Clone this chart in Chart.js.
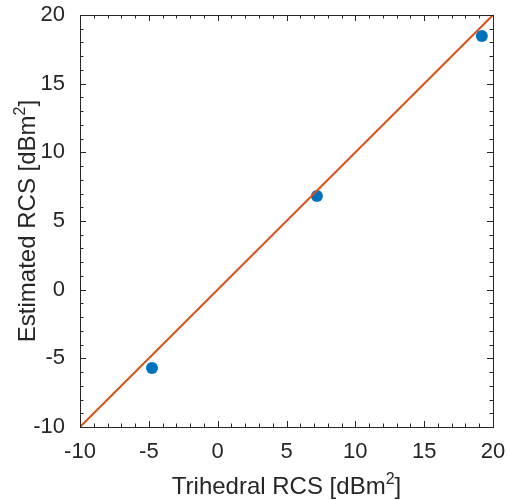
<!DOCTYPE html>
<html>
<head>
<meta charset="utf-8">
<script src="https://cdn.jsdelivr.net/npm/chart.js@4"></script>
<style>
  html, body { margin: 0; padding: 0; background: #fff; }
  #wrap { width: 507px; height: 500px; }
</style>
</head>
<body>
<div id="wrap"><canvas id="c" width="507" height="500"></canvas></div>
<script>
// ---- data ----
const trihedralRCS = [-4.77, 7.21, 19.19];
const estimatedRCS = [-5.71, 6.82, 18.47];
const refLineX = [-10, 20];
const refLineY = [-10, 20];
const axisMin = -10;
const axisMax = 20;
const majorStep = 5;
const minorStep = 1;
const xTitle = 'Trihedral RCS [dBm';
const yTitle = 'Estimated RCS [dBm';
const titleSup = '2';
const titleEnd = ']';

const FONT = '"Liberation Sans", Arial, Helvetica, sans-serif';
const INK = '#262626';

const pointsData = trihedralRCS.map((x, i) => ({ x: x, y: estimatedRCS[i] }));
const lineData = refLineX.map((x, i) => ({ x: x, y: refLineY[i] }));

const boxPlugin = {
  id: 'boxTicks',
  afterDraw(chart) {
    const ctx = chart.ctx;
    const a = chart.chartArea;
    const xs = chart.scales.x, ys = chart.scales.y;
    ctx.save();
    ctx.strokeStyle = INK;
    ctx.lineWidth = 1;
    ctx.beginPath();
    for (let v = axisMin; v <= axisMax; v += minorStep) {
      const major = (v % majorStep) === 0;
      const len = major ? 6 : 3.5;
      const px = Math.round(xs.getPixelForValue(v)) + 0.5;
      ctx.moveTo(px, a.bottom); ctx.lineTo(px, a.bottom - len);
      ctx.moveTo(px, a.top); ctx.lineTo(px, a.top + len);
      const py = Math.round(ys.getPixelForValue(v)) + 0.5;
      ctx.moveTo(a.left, py); ctx.lineTo(a.left + len, py);
      ctx.moveTo(a.right, py); ctx.lineTo(a.right - len, py);
    }
    ctx.stroke();
    ctx.strokeRect(Math.round(a.left) + 0.5, Math.round(a.top) + 0.5,
                   Math.round(a.right - a.left), Math.round(a.bottom - a.top));

    // axis titles with superscript
    const mainSize = 24, supSize = 16;
    function drawTitle(text) {
      ctx.font = mainSize + 'px ' + FONT;
      const w1 = ctx.measureText(text).width;
      ctx.font = supSize + 'px ' + FONT;
      const w2 = ctx.measureText(titleSup).width;
      ctx.font = mainSize + 'px ' + FONT;
      const w3 = ctx.measureText(titleEnd).width;
      const total = w1 + w2 + w3;
      let x0 = -total / 2;
      ctx.textAlign = 'left';
      ctx.textBaseline = 'alphabetic';
      ctx.fillText(text, x0, 0);
      ctx.font = supSize + 'px ' + FONT;
      ctx.fillText(titleSup, x0 + w1, -10);
      ctx.font = mainSize + 'px ' + FONT;
      ctx.fillText(titleEnd, x0 + w1 + w2, 0);
    }
    ctx.fillStyle = INK;
    ctx.save();
    ctx.translate((a.left + a.right) / 2, 494);
    drawTitle(xTitle);
    ctx.restore();
    ctx.save();
    ctx.translate(35, (a.top + a.bottom) / 2);
    ctx.rotate(-Math.PI / 2);
    drawTitle(yTitle);
    ctx.restore();
    ctx.restore();
  }
};

new Chart(document.getElementById('c'), {
  type: 'scatter',
  data: {
    datasets: [
      {
        label: 'y = x',
        data: lineData,
        showLine: true,
        borderColor: '#D95319',
        borderWidth: 2,
        pointRadius: 0,
        fill: false,
        order: 0
      },
      {
        label: 'Measurements',
        data: pointsData,
        backgroundColor: '#0072BD',
        borderColor: '#0072BD',
        borderWidth: 0,
        pointRadius: 6,
        order: 1
      }
    ]
  },
  options: {
    responsive: false,
    animation: false,
    devicePixelRatio: 1,
    layout: { padding: { top: 15, right: 14, left: 0, bottom: 0 } },
    plugins: { legend: { display: false }, tooltip: { enabled: false } },
    scales: {
      x: {
        type: 'linear',
        min: axisMin, max: axisMax,
        grid: { display: false },
        border: { display: false },
        ticks: { stepSize: majorStep, color: INK, font: { family: FONT, size: 22 }, padding: 4, maxRotation: 0 },
        afterFit(s) { s.height = 73; s.paddingLeft = 0; s.paddingRight = 0; }
      },
      y: {
        type: 'linear',
        min: axisMin, max: axisMax,
        grid: { display: false },
        border: { display: false },
        ticks: { stepSize: majorStep, color: INK, font: { family: FONT, size: 22 }, padding: 7 },
        afterFit(s) { s.width = 80; s.paddingTop = 0; s.paddingBottom = 0; }
      }
    }
  },
  plugins: [boxPlugin]
});
</script>
</body>
</html>
